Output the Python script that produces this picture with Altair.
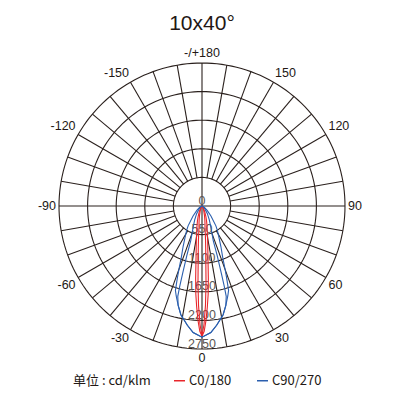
import math
import altair as alt
import pandas as pd

# ---------------- data ----------------
TITLE = "10x40°"
UNIT_LABEL = "单位 : cd/klm"
R_MAX = 2750
RING_VALUES = [550, 1100, 1650, 2200, 2750]
RADIAL_TICK_VALUES = [0, 550, 1100, 1650, 2200, 2750]
RADIAL_TICK_TEXT = ["0", "550", "1100", "1650", "2200", "2750"]
SPOKE_ANGLES = list(range(0, 360, 10))
ANGLE_TICKS = [0, 30, 60, 90, 120, 150, 180, -150, -120, -90, -60, -30]
ANGLE_TICK_TEXT = ["0", "30", "60", "90", "120", "150", "-/+180",
                   "-150", "-120", "-90", "-60", "-30"]

SERIES = ["C0/180", "C90/270"]
COLORS = ["#e8262b", "#2b5fae"]

# C0/180 plane (red): two halves
C0_ANG = [0, 1, 2, 3, 4, 5, 6, 7, 8, 9, 10, 12, 14, 17, 20, 25, 30, 40, 50, 90]
C0_VAL = [2502, 2410, 2200, 1950, 1700, 1400, 1120, 930, 800, 700, 620, 480,
          400, 300, 220, 130, 70, 20, 5, 0]
C180_ANG = [0, 1, 2, 3, 4, 5, 6, 8, 10, 12, 15, 20, 25, 30, 40, 90]
C180_VAL = [2502, 2270, 1912, 1480, 1050, 820, 650, 420, 330, 260, 180, 100,
            60, 30, 5, 0]

# C90/270 plane (blue): two halves
C90_ANG = [0, 4, 7, 11, 13.5, 16, 17.5, 19, 20, 22, 25, 28, 32, 35, 42, 50, 60, 70, 90]
C90_VAL = [2522, 2440, 2310, 2130, 1964, 1800, 1700, 1450, 1300, 1060, 860,
           700, 560, 466, 257, 130, 50, 10, 0]
C270_ANG = [0, 4, 7, 11, 13.5, 15, 15.5, 16, 17, 18, 20, 23, 28, 35, 45, 60, 90]
C270_VAL = [2522, 2440, 2310, 2130, 1964, 1800, 1600, 1350, 1000, 700, 560,
            430, 300, 180, 80, 20, 0]

# ---------------- tables built from the arrays ----------------
def curve_rows(name, series, angs, vals):
    rows = []
    for a, v in zip(reversed(angs), reversed(vals)):
        if a != 0:
            rows.append({"curve": name, "series": series, "ang": -a, "val": v})
    for a, v in zip(angs, vals):
        rows.append({"curve": name, "series": series, "ang": a, "val": v})
    return rows

curves = pd.DataFrame(
    curve_rows("C0", SERIES[0], C0_ANG, C0_VAL)
    + curve_rows("C180", SERIES[0], C180_ANG, C180_VAL)
    + curve_rows("C90", SERIES[1], C90_ANG, C90_VAL)
    + curve_rows("C270", SERIES[1], C270_ANG, C270_VAL)
)

rings = pd.DataFrame([{"ring": r, "ang": a} for r in RING_VALUES for a in range(0, 362, 2)])
spokes = pd.DataFrame([{"ang": a, "r1": 0 if a % 90 == 0 else RING_VALUES[0], "r2": R_MAX}
                       for a in SPOKE_ANGLES])
radial = pd.DataFrame({"val": RADIAL_TICK_VALUES, "txt": RADIAL_TICK_TEXT})

LABEL_R = R_MAX * 146 / 143
alab = pd.DataFrame({"ang": ANGLE_TICKS, "txt": ANGLE_TICK_TEXT})
def _align(a):
    s = math.sin(math.radians(a))
    return "left" if s > 0.01 else ("right" if s < -0.01 else "center")
def _base(a):
    c = math.cos(math.radians(a))
    return "top" if c > 0.01 else ("bottom" if c < -0.01 else "middle")
alab["al"] = alab["ang"].map(_align)
alab["bl"] = alab["ang"].map(_base)

# ---------------- chart ----------------
sc = alt.Scale(domain=[-R_MAX, R_MAX], nice=False, zero=False)
X = alt.X("x:Q", scale=sc, axis=None)
Y = alt.Y("y:Q", scale=sc, axis=None)
GRID = "#2a201d"

ring_layer = alt.Chart(rings).transform_calculate(
    x="datum.ring*sin(datum.ang*PI/180)", y="datum.ring*cos(datum.ang*PI/180)"
).mark_line(color=GRID, strokeWidth=1.1).encode(
    x=X, y=Y, detail="ring:N", order="ang:Q")

spoke_layer = alt.Chart(spokes).transform_calculate(
    x="datum.r1*sin(datum.ang*PI/180)", y="-datum.r1*cos(datum.ang*PI/180)",
    x2="datum.r2*sin(datum.ang*PI/180)", y2="-datum.r2*cos(datum.ang*PI/180)"
).mark_rule(color=GRID, strokeWidth=1.1).encode(
    x=X, y=Y, x2="x2:Q", y2="y2:Q")

radial_layer = alt.Chart(radial).transform_calculate(
    x="0", y="-datum.val"
).mark_text(font="Liberation Sans", fontSize=12.5, color="#5a5655",
            baseline="alphabetic", align="center", dy=-1.5).encode(
    x=X, y=Y, text="txt:N")

angle_layers = []
for (al, bl), _ in alab.groupby(["al", "bl"]):
    angle_layers.append(
        alt.Chart(alab).transform_filter(
            f"datum.al == '{al}' && datum.bl == '{bl}'"
        ).transform_calculate(
            x=f"{LABEL_R}*sin(datum.ang*PI/180)", y=f"-{LABEL_R}*cos(datum.ang*PI/180)"
        ).mark_text(font="Liberation Sans", fontSize=12.5, color="#231815",
                    align=al, baseline=bl).encode(x=X, y=Y, text="txt:N")
    )

curve_layer = alt.Chart(curves).transform_calculate(
    x="datum.val*sin(datum.ang*PI/180)", y="-datum.val*cos(datum.ang*PI/180)"
).mark_line(strokeWidth=1.1).encode(
    x=X, y=Y, detail="curve:N", order="ang:Q",
    color=alt.Color("series:N", scale=alt.Scale(domain=SERIES, range=COLORS),
                    legend=alt.Legend(
                        title=UNIT_LABEL, orient="none", legendX=14, legendY=311,
                        direction="horizontal", titleOrient="left",
                        symbolType="stroke", symbolSize=121, symbolStrokeWidth=1.5,
                        labelFont="Noto Sans CJK SC", titleFont="Noto Sans CJK SC",
                        labelFontSize=13, titleFontSize=13, titleFontWeight="normal",
                        labelColor="#231815", titleColor="#231815",
                        titlePadding=22, columnPadding=22, labelOffset=3,
                        titleBaseline="middle")))

chart = alt.layer(ring_layer, spoke_layer, radial_layer, *angle_layers, curve_layer).properties(
    width=286, height=286,
    title=alt.TitleParams(TITLE, font="Liberation Sans", fontSize=21, fontWeight="normal",
                          color="#231815", anchor="middle", baseline="alphabetic", offset=-4),
    autosize=alt.AutoSizeParams(type="none"),
    padding={"left": 59, "top": 63, "right": 55, "bottom": 51},
).configure(background="white", view=alt.ViewConfig(stroke=None))

chart.save("out.html", embed_options={"renderer": "svg", "actions": False})
